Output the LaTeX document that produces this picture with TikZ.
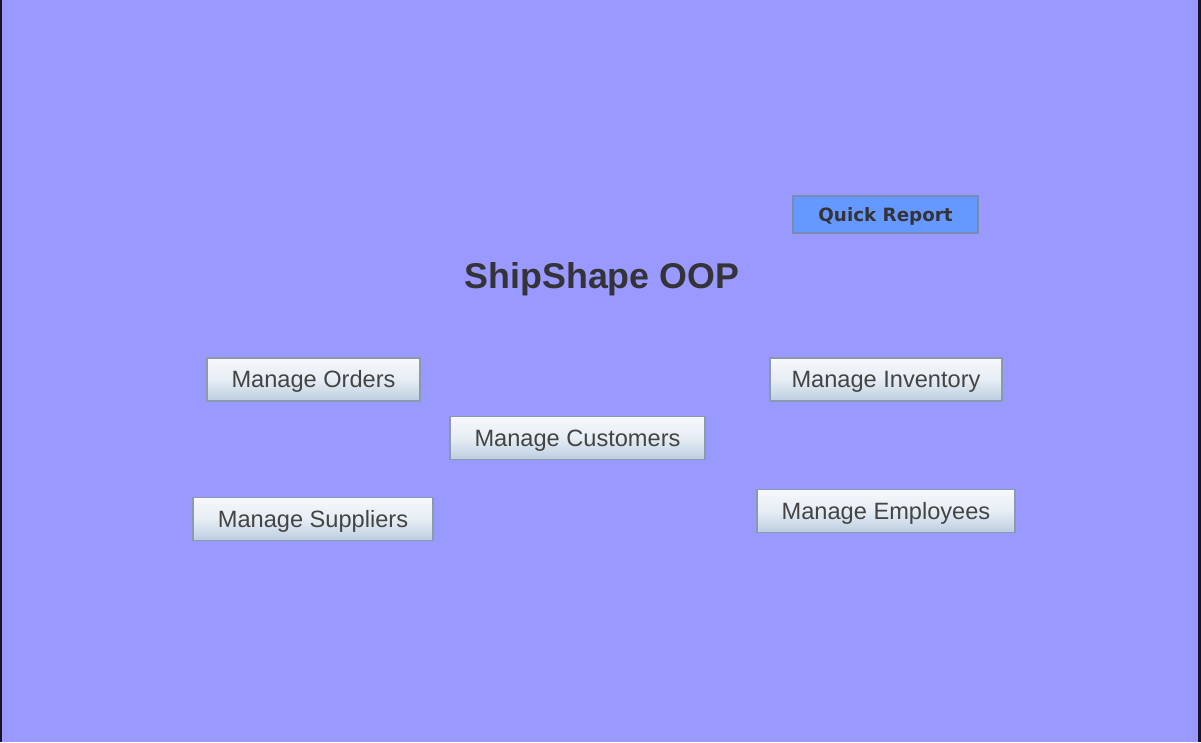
\documentclass[tikz,border=0pt]{standalone}
\usepackage{fontspec}
\setmainfont{Liberation Sans}
\newfontfamily\qrfont{DejaVu Sans}
\definecolor{bgc}{HTML}{9999FF}
\definecolor{edgec}{HTML}{14142A}
\definecolor{btnline}{HTML}{8A9AAE}
\definecolor{btntop}{HTML}{F6F8FB}
\definecolor{btnmid}{HTML}{E6EDF4}
\definecolor{btnbot}{HTML}{BCCDE0}
\definecolor{btntext}{HTML}{444444}
\definecolor{qrfill}{HTML}{6699FF}
\definecolor{qrline}{HTML}{7A8AB0}
\definecolor{titlec}{HTML}{333338}
\tikzset{
  btn/.style={draw=btnline, line width=1.3pt, inner sep=0pt,
    top color=btntop, bottom color=btnbot, middle color=btnmid,
    text=btntext, font=\fontsize{23.6}{23.6}\selectfont,
    minimum height=43pt, text height=16pt, text depth=0pt},
  qrbtn/.style={draw=qrline, line width=1.3pt, inner sep=0pt, fill=qrfill,
    text=titlec, font=\qrfont\bfseries\fontsize{18.3}{18.3}\selectfont,
    minimum width=185pt, minimum height=37pt, text height=13pt, text depth=0pt},
  titlestyle/.style={inner sep=0pt, anchor=base, text=titlec,
    font=\bfseries\fontsize{35.8}{35.8}\selectfont}
}
\begin{document}
\begin{tikzpicture}[x=1pt,y=-1pt]
\useasboundingbox (0,0) rectangle (1201,742);
\fill[bgc] (0,0) rectangle (1201,742);
\fill[edgec] (0,0) rectangle (1.5,742);
\fill[edgec] (1198,0) rectangle (1201,742);
\node[qrbtn] (quick) at (885.5,214.5) {Quick Report};
\node[titlestyle] (title) at (602,288) {ShipShape OOP};
\node[btn, minimum width=213pt] (orders) at (313.5,379.5) {Manage Orders};
\node[btn, minimum width=232pt] (inventory) at (886,379.5) {Manage Inventory};
\node[btn, minimum width=255pt] (customers) at (577.5,438) {Manage Customers};
\node[btn, minimum width=240pt] (suppliers) at (313,519) {Manage Suppliers};
\node[btn, minimum width=258pt] (employees) at (886,511) {Manage Employees};
\end{tikzpicture}
\end{document}
